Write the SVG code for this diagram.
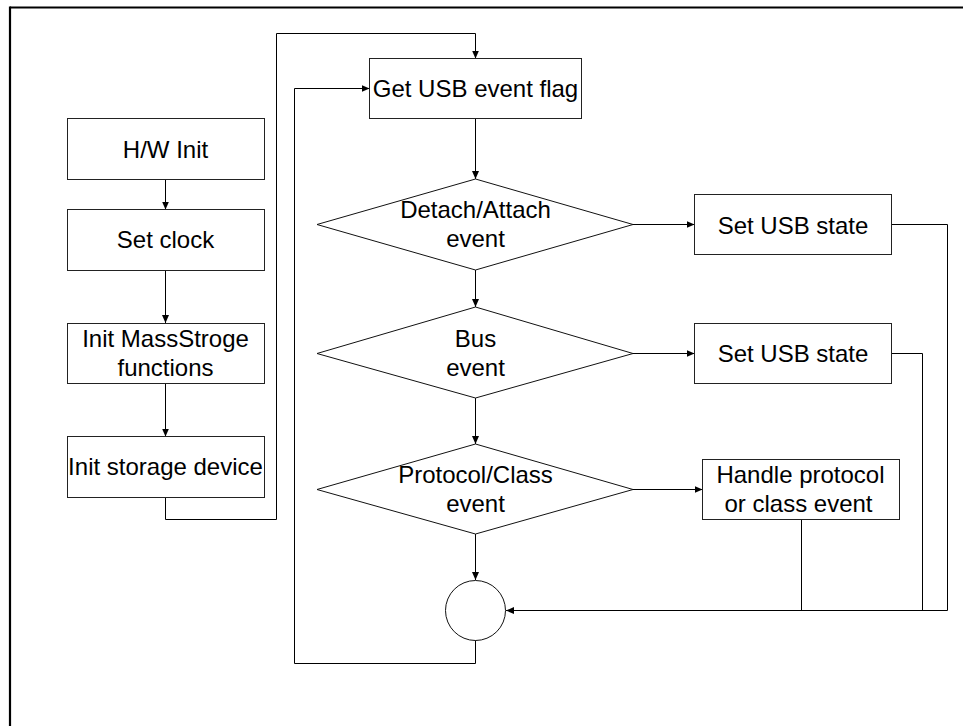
<svg xmlns="http://www.w3.org/2000/svg" width="963" height="726" viewBox="0 0 963 726">
  <style>
    .box { fill: #fff; stroke: #222; stroke-width: 1; }
    .shape { fill: #fff; stroke: #111; stroke-width: 1; }
    .wire { fill: none; stroke: #000; stroke-width: 1; }
    .lbl { font-family: "Liberation Sans", Arial, sans-serif; font-size: 24px; fill: #000; text-anchor: middle; }
  </style>
  <defs>
    <marker id="arrow" markerUnits="userSpaceOnUse" markerWidth="9" markerHeight="8" refX="8" refY="3.5" orient="auto">
      <path d="M0,0 L8,3.5 L0,7 z" fill="#000"/>
    </marker>
  </defs>

  <rect width="963" height="726" fill="#fff"/>

  <!-- frame (only the top and left edges fall inside the page) -->
  <g id="frame">
    <line x1="10" y1="7.5" x2="963" y2="7.5" stroke="#000" stroke-width="2.2"/>
    <line x1="10" y1="6.5" x2="10" y2="726" stroke="#000" stroke-width="2.2"/>
  </g>

  <!-- connectors -->
  <g id="connectors">
    <!-- init column -->
    <line class="wire" x1="165.5" y1="179.5" x2="165.5" y2="209.5" marker-end="url(#arrow)"/>
    <line class="wire" x1="165.5" y1="270.5" x2="165.5" y2="323" marker-end="url(#arrow)"/>
    <line class="wire" x1="165.5" y1="383.5" x2="165.5" y2="436.5" marker-end="url(#arrow)"/>
    <polyline class="wire" points="165.5,497.5 165.5,519.5 276.5,519.5 276.5,33.5 475.5,33.5 475.5,58.5" marker-end="url(#arrow)"/>

    <!-- main loop -->
    <line class="wire" x1="475.5" y1="118.5" x2="475.5" y2="179" marker-end="url(#arrow)"/>
    <line class="wire" x1="475.5" y1="270" x2="475.5" y2="307" marker-end="url(#arrow)"/>
    <line class="wire" x1="475.5" y1="398" x2="475.5" y2="444" marker-end="url(#arrow)"/>
    <line class="wire" x1="475.5" y1="534" x2="475.5" y2="580" marker-end="url(#arrow)"/>
    <polyline class="wire" points="475.5,640 475.5,663.5 294.5,663.5 294.5,88.5 369.5,88.5" marker-end="url(#arrow)"/>

    <!-- decision branches -->
    <line class="wire" x1="633" y1="224.5" x2="694.5" y2="224.5" marker-end="url(#arrow)"/>
    <line class="wire" x1="633" y1="353.5" x2="694.5" y2="353.5" marker-end="url(#arrow)"/>
    <line class="wire" x1="633" y1="489.5" x2="702.5" y2="489.5" marker-end="url(#arrow)"/>

    <!-- returns to the junction -->
    <polyline class="wire" points="891.5,224.5 947.5,224.5 947.5,610.5"/>
    <polyline class="wire" points="891.5,353.5 922.5,353.5 922.5,610.5"/>
    <line class="wire" x1="801.5" y1="519.5" x2="801.5" y2="610.5"/>
    <line class="wire" x1="947.5" y1="610.5" x2="506" y2="610.5" marker-end="url(#arrow)"/>
  </g>

  <!-- init column -->
  <g id="hw-init">
    <rect class="box" x="67.5" y="118.5" width="197" height="61"/>
    <text class="lbl" x="165.5" y="158">H/W Init</text>
  </g>
  <g id="set-clock">
    <rect class="box" x="67.5" y="209.5" width="197" height="61"/>
    <text class="lbl" x="165.5" y="248">Set clock</text>
  </g>
  <g id="init-massstorage">
    <rect class="box" x="67.5" y="323.5" width="197" height="60"/>
    <text class="lbl" x="165.5" y="347">Init MassStroge</text>
    <text class="lbl" x="165.5" y="375.5">functions</text>
  </g>
  <g id="init-storage">
    <rect class="box" x="67.5" y="436.5" width="197" height="61"/>
    <text class="lbl" x="165.5" y="475">Init storage device</text>
  </g>

  <!-- event loop -->
  <g id="get-flag">
    <rect class="box" x="369.5" y="58.5" width="212" height="60"/>
    <text class="lbl" x="475.5" y="96.5">Get USB event flag</text>
  </g>
  <g id="detach-attach">
    <polygon class="shape" points="475.5,179 633,224.5 475.5,270 317,224.5"/>
    <text class="lbl" x="475.5" y="218">Detach/Attach</text>
    <text class="lbl" x="475.5" y="246.5">event</text>
  </g>
  <g id="bus-event">
    <polygon class="shape" points="475.5,307 633,353.5 475.5,398 317,353.5"/>
    <text class="lbl" x="475.5" y="346.5">Bus</text>
    <text class="lbl" x="475.5" y="375.5">event</text>
  </g>
  <g id="protocol-class">
    <polygon class="shape" points="475.5,444 633,489.5 475.5,534 317,489.5"/>
    <text class="lbl" x="475.5" y="483">Protocol/Class</text>
    <text class="lbl" x="475.5" y="511.5">event</text>
  </g>
  <g id="set-state-1">
    <rect class="box" x="694.5" y="194.5" width="197" height="60"/>
    <text class="lbl" x="793" y="233.5">Set USB state</text>
  </g>
  <g id="set-state-2">
    <rect class="box" x="694.5" y="323.5" width="197" height="60"/>
    <text class="lbl" x="793" y="361.5">Set USB state</text>
  </g>
  <g id="handle-event">
    <rect class="box" x="702.5" y="459.5" width="197" height="60"/>
    <text class="lbl" x="800.5" y="483">Handle protocol</text>
    <text class="lbl" x="798.5" y="511.5">or class event</text>
  </g>
  <g id="junction">
    <circle class="shape" cx="475.5" cy="610.5" r="30"/>
  </g>
</svg>
